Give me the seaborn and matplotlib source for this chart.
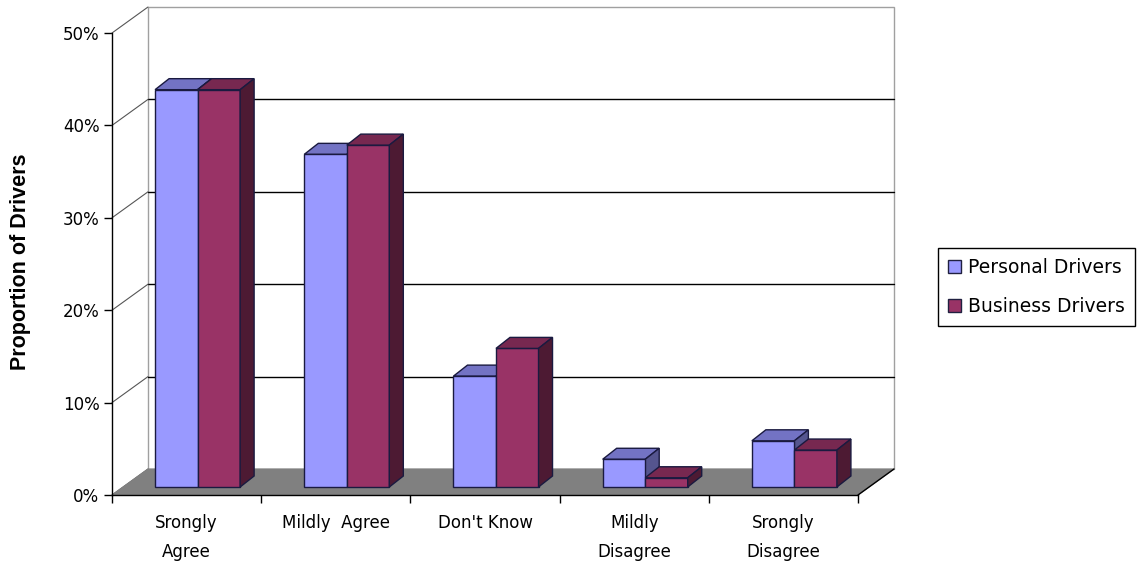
import matplotlib
matplotlib.use("Agg")
import matplotlib.pyplot as plt
import seaborn as sns
import pandas as pd
import numpy as np
from matplotlib.patches import Polygon, Patch
from matplotlib.transforms import Affine2D

# ---- data ----
categories = ["Srongly\nAgree", "Mildly  Agree", "Don't Know", "Mildly\nDisagree", "Srongly\nDisagree"]
series_names = ["Personal Drivers", "Business Drivers"]
personal = [0.43, 0.36, 0.12, 0.03, 0.05]
business = [0.43, 0.37, 0.15, 0.01, 0.04]
y_ticks = [0.0, 0.1, 0.2, 0.3, 0.4, 0.5]
y_tick_labels = ["0%", "10%", "20%", "30%", "40%", "50%"]
y_title = "Proportion of Drivers"

front_colors = ["#9999FF", "#993366"]
top_colors = ["#7373C4", "#772850"]
side_colors = ["#55558F", "#4D1A33"]

df = pd.DataFrame({
    "Response": categories * 2,
    "Driver": [series_names[0]] * len(categories) + [series_names[1]] * len(categories),
    "Proportion": personal + business,
})

sns.set_style("white")
plt.rcParams["font.family"] = ["DejaVu Sans"]
plt.rcParams["text.color"] = "black"

W, H = 1140, 566
fig = plt.figure(figsize=(W / 100, H / 100), dpi=100)
fig.patch.set_facecolor("white")
L, R, B, T = 112, 858, 495, 33
ax = fig.add_axes([L / W, 1 - B / H, (R - L) / W, (B - T) / H])
ax.patch.set_alpha(0)

sns.barplot(data=df, x="Response", y="Proportion", hue="Driver", order=categories,
            hue_order=series_names, palette=front_colors, saturation=1, width=0.57,
            edgecolor="#1A1A40", linewidth=1, legend=False, ax=ax, zorder=3)
ax.set_xlim(-0.5, 4.5)
ax.set_ylim(0, 0.5)


def px_to_data(dx, dy):
    inv = ax.transData.inverted()
    p0 = ax.transData.transform((0.0, 0.0))
    q = inv.transform(p0 + np.array([dx, dy]))
    return q[0], q[1]


DX, DY = px_to_data(36, 26)   # wall depth
FX, FY = px_to_data(14, 11)   # bar depth
bar_shift = ax.transData + Affine2D().translate(11, 8)

# back wall
ax.add_patch(Polygon([(-0.5 + DX, DY), (4.5 + DX, DY), (4.5 + DX, 0.5 + DY), (-0.5 + DX, 0.5 + DY)],
                     closed=True, facecolor="white", edgecolor="#A0A0A0", lw=1, zorder=0.5, clip_on=False))
for v in y_ticks[1:-1]:
    ax.plot([-0.5 + DX, 4.5 + DX], [v + DY, v + DY], color="black", lw=1, zorder=0.6, clip_on=False)
# left wall lines
for v in y_ticks:
    ax.plot([-0.5, -0.5 + DX], [v, v + DY], color="#555555", lw=0.8, zorder=0.6, clip_on=False)
# floor
ax.add_patch(Polygon([(-0.5, 0), (4.5, 0), (4.5 + DX, DY), (-0.5 + DX, DY)], closed=True,
                     facecolor="#808080", edgecolor="#808080", lw=0.8, zorder=0.7, clip_on=False))
ax.plot([4.5, 4.5 + DX], [0, DY], color="black", lw=1, zorder=0.8, clip_on=False)

# 3-D faces on bars
for i, cont in enumerate(ax.containers):
    z = 2 if i == 0 else 3
    for p in cont:
        x, w, h = p.get_x(), p.get_width(), p.get_height()
        p.set_transform(bar_shift)
        top = Polygon([(x, h), (x + FX, h + FY), (x + w + FX, h + FY), (x + w, h)], closed=True,
                      facecolor=top_colors[i], edgecolor="#1A1A40", lw=1, zorder=z)
        side = Polygon([(x + w, 0), (x + w + FX, FY), (x + w + FX, h + FY), (x + w, h)], closed=True,
                       facecolor=side_colors[i], edgecolor="#1A1A40", lw=1, zorder=z)
        for poly in (top, side):
            poly.set_transform(bar_shift)
            poly.set_clip_on(False)
            ax.add_patch(poly)

# axes styling
for s in ["top", "right"]:
    ax.spines[s].set_visible(False)
for s in ["left", "bottom"]:
    ax.spines[s].set_color("black")
    ax.spines[s].set_linewidth(1)
    ax.spines[s].set_zorder(5)
ax.set_xlabel("")
ax.set_ylabel("")
ax.set_yticks(y_ticks)
ax.set_yticklabels(y_tick_labels)
ax.set_xticks(np.arange(-0.5, 5.0, 1.0))
ax.set_xticklabels([])
ax.set_xticks(range(len(categories)), categories, minor=True)
ax.tick_params(axis="y", which="major", left=True, length=6, width=1, color="black",
               direction="out", pad=3, labelsize=12, labelcolor="black")
ax.tick_params(axis="x", which="major", bottom=True, length=6, width=1, color="black", direction="out")
ax.tick_params(axis="x", which="minor", bottom=True, length=0, pad=14, labelsize=12, labelcolor="black")
for lbl in ax.get_xticklabels(minor=True):
    lbl.set_linespacing(1.75)

fig.text(21 / W, 1 - 262 / H, y_title, rotation=90, ha="center", va="center", color="black",
         fontsize=15.5, fontweight="bold", family=["Liberation Sans", "DejaVu Sans"])

handles = [Patch(facecolor=c, edgecolor="#202040", lw=1) for c in front_colors]
leg = fig.legend(handles, series_names, loc="upper left", bbox_to_anchor=(938 / W, 1 - 248 / H),
                 frameon=True, fancybox=False, edgecolor="black", framealpha=1, fontsize=13.5,
                 handlelength=0.65, handleheight=0.65, handletextpad=0.4, labelspacing=1.05,
                 borderpad=0.55, borderaxespad=0, labelcolor="black")
leg.get_frame().set_linewidth(1)

fig.savefig("out.png", dpi=100)
